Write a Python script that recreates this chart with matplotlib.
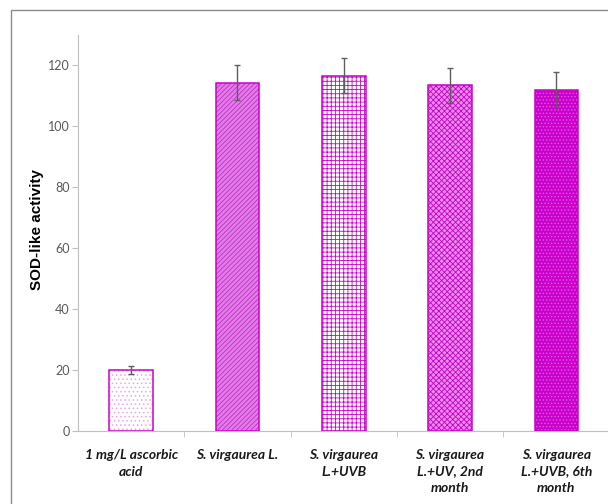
import numpy as np
import matplotlib.pyplot as plt
from matplotlib.patches import Rectangle

# SOD-like activity of the samples (mean and error)
categories = ['1 mg/L ascorbic\nacid', 'S. virgaurea L.', 'S. virgaurea\nL.+UVB',
              'S. virgaurea\nL.+UV, 2nd\nmonth', 'S. virgaurea\nL.+UVB, 6th\nmonth']
values = [20.0, 114.3, 116.7, 113.5, 112.1]
errors = [1.3, 5.7, 5.9, 5.7, 5.7]

# bar styles
edge = '#CC00CC'
faces = ['white', '#E27CE6', 'white', '#E88CEA', '#CC00CC']
hatch_colors = ['#E8A6E8', '#C22ECA', '#CC00CC', '#C800C8', '#DC5ADF']
hatches = ['....', '///////', '++++', 'xxxxxx', '.....']

plt.rcParams['hatch.linewidth'] = 0.6

fig = plt.figure(figsize=(6.08, 5.04), dpi=100)
ax = fig.add_axes([78 / 608, 73 / 504, 531.5 / 608, 396 / 504])

x = np.arange(len(categories))
# fill + hatch layer, then outline layer
for i in range(len(x)):
    ax.bar(x[i], values[i], width=0.41, color=faces[i], edgecolor=hatch_colors[i],
           hatch=hatches[i], linewidth=0, zorder=2)
ax.bar(x, values, width=0.41, facecolor='none', edgecolor=edge, linewidth=1.1, zorder=3)
ax.errorbar(x, values, yerr=errors, fmt='none', ecolor='#5E5E5E', elinewidth=1,
            capsize=2.5, capthick=1, zorder=4)

ax.set_xlim(-0.5, 4.5)
ax.set_ylim(0, 130)
ax.set_yticks(np.arange(0, 121, 20))
ax.tick_params(axis='y', colors='#BFBFBF', labelcolor='#595959', labelsize=9,
               length=4, pad=2)
for lab in ax.get_yticklabels():
    lab.set_family('Lato')

ax.set_xticks(x)
ax.set_xticklabels(categories, fontsize=10, fontweight='bold', style='italic',
                   family='Lato', color='#1a1a1a', linespacing=1.45, va='top')
ax.tick_params(axis='x', which='major', length=0, pad=13)
ax.set_xticks(np.arange(0.5, 4.5, 1), minor=True)
ax.tick_params(axis='x', which='minor', length=4, color='#BFBFBF')

for s in ['top', 'right']:
    ax.spines[s].set_visible(False)
ax.spines['left'].set_color('#BFBFBF')
ax.spines['bottom'].set_color('#BFBFBF')

ax.set_ylabel('SOD-like activity', fontsize=11, fontweight='bold', family='Liberation Sans')
ax.yaxis.set_label_coords(-34 / 531.5, (504 - 230 - 73) / 396)

# outer frame of the chart area
fig.patches.append(Rectangle((11 / 608, -0.2), 1.0, 1.2 - 10 / 504,
                             transform=fig.transFigure, fill=False,
                             edgecolor='#8C8C8C', linewidth=1))

fig.savefig('out.png', dpi=100)
